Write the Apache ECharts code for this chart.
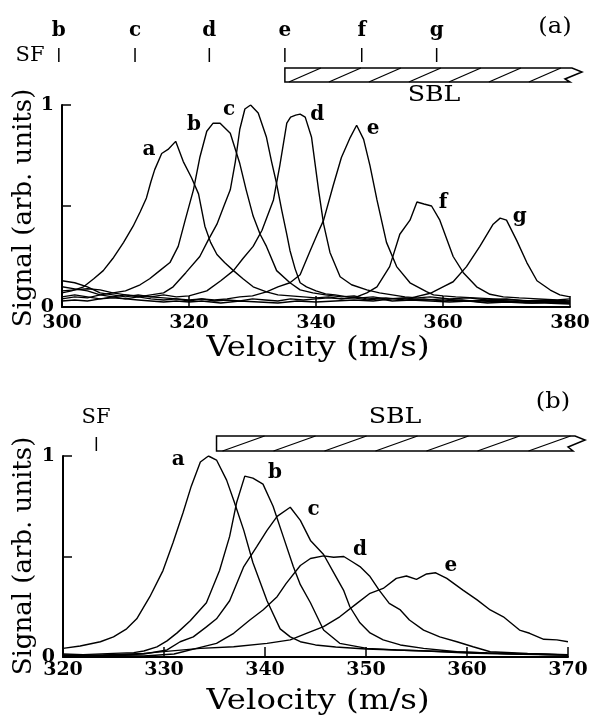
<!DOCTYPE html>
<html>
<head>
<meta charset="utf-8">
<script src="https://cdn.jsdelivr.net/npm/echarts@6/dist/echarts.min.js"></script>
<style>
  html, body { margin: 0; padding: 0; background: #fff; }
  #chart { width: 595px; height: 715px; }
</style>
</head>
<body>
<div id="chart"></div>
<script>
// panel (a): velocity (m/s) / signal pairs
const curveA_a = [[300,0.07],[301.5,0.08],[303.4,0.1],[305,0.14],[306.5,0.18],[308,0.24],[309.7,0.32],[311.2,0.4],[312.3,0.47],[313.3,0.54],[314,0.62],[314.6,0.68],[315.7,0.76],[316.7,0.78],[317.9,0.82],[319.1,0.72],[320.4,0.64],[321.5,0.56],[322.5,0.4],[323.4,0.32],[324.4,0.26],[325.6,0.22],[327,0.18],[328.5,0.14],[330.1,0.1],[332.2,0.075],[334,0.06],[336,0.055],[338,0.05],[340,0.045],[342,0.05],[344,0.04],[346,0.045],[348,0.035],[350,0.04],[352,0.03],[355,0.035],[358,0.03],[361,0.025],[364,0.03],[367,0.02],[370,0.025],[373,0.02],[376,0.02],[380,0.015]]
const curveA_b = [[300,0.04],[302,0.05],[304,0.045],[306,0.06],[308,0.07],[310,0.08],[312.3,0.11],[313.8,0.14],[315.4,0.18],[317,0.22],[318.3,0.3],[319.4,0.43],[320.7,0.58],[321.7,0.74],[322.8,0.87],[323.8,0.91],[324.9,0.91],[326.5,0.86],[328,0.71],[329,0.58],[330.1,0.45],[331.2,0.36],[332.2,0.3],[333.8,0.18],[335.9,0.12],[337.5,0.085],[339.5,0.07],[341.5,0.06],[344,0.05],[346,0.055],[348,0.04],[351,0.045],[354,0.035],[357,0.04],[360,0.03],[363,0.035],[366,0.025],[370,0.03],[374,0.02],[377,0.025],[380,0.02]]
const curveA_c = [[300,0.05],[302,0.06],[304,0.05],[306,0.04],[308,0.05],[310,0.06],[312,0.05],[314,0.06],[316,0.07],[317.5,0.1],[319.5,0.17],[321.7,0.25],[323,0.33],[324.4,0.41],[325.5,0.5],[326.5,0.58],[327.3,0.72],[328,0.88],[328.8,0.98],[329.7,1.0],[330.9,0.96],[332.2,0.84],[333,0.72],[333.8,0.61],[334.6,0.48],[335.4,0.36],[335.9,0.28],[336.7,0.19],[337.5,0.12],[338.5,0.1],[340,0.08],[341.5,0.065],[343,0.06],[345,0.05],[347,0.045],[349,0.05],[351,0.04],[354,0.045],[357,0.035],[360,0.04],[364,0.03],[368,0.035],[372,0.025],[376,0.03],[380,0.02]]
const curveA_d = [[300,0.13],[302,0.12],[304,0.1],[306,0.07],[308,0.06],[310,0.05],[312,0.06],[314,0.05],[316,0.06],[318,0.05],[320,0.055],[322.8,0.08],[325,0.13],[327,0.18],[328.5,0.24],[330.1,0.3],[331.5,0.38],[333.3,0.53],[334.3,0.7],[335.4,0.91],[336,0.94],[336.8,0.95],[337.5,0.955],[338.3,0.94],[339.3,0.84],[340.4,0.58],[341.2,0.41],[342.2,0.27],[343.8,0.15],[345.6,0.11],[348,0.085],[350,0.07],[352,0.06],[354,0.05],[356,0.045],[358,0.05],[361,0.04],[364,0.045],[367,0.035],[370,0.04],[373,0.03],[376,0.035],[380,0.03]]
const curveA_e = [[300,0.1],[302,0.09],[304,0.08],[306,0.06],[308,0.05],[310,0.04],[312,0.05],[314,0.04],[316,0.035],[318,0.04],[320,0.03],[322,0.04],[324,0.035],[326,0.04],[328,0.05],[330,0.055],[332.2,0.075],[334,0.1],[335.9,0.12],[337.5,0.16],[339.1,0.28],[340.2,0.36],[341.2,0.43],[342.7,0.6],[344,0.74],[345.4,0.84],[346.4,0.9],[347.5,0.83],[348.5,0.7],[349.6,0.53],[351.1,0.32],[352.7,0.2],[354.8,0.12],[357.4,0.076],[358.5,0.06],[360,0.055],[362,0.05],[365,0.045],[368,0.04],[371,0.035],[374,0.03],[377,0.025],[380,0.03]]
const curveA_f = [[300,0.08],[302,0.085],[304,0.09],[306,0.085],[308,0.07],[310,0.06],[312,0.055],[314,0.05],[316,0.045],[318,0.04],[320,0.035],[322,0.04],[324,0.03],[326,0.035],[328,0.03],[330,0.04],[332,0.035],[334,0.03],[336,0.04],[338,0.035],[340,0.04],[342,0.045],[344,0.04],[346.4,0.05],[348,0.07],[349.6,0.1],[351.6,0.2],[353.2,0.36],[354.8,0.43],[355.9,0.52],[357,0.51],[358.2,0.5],[359.5,0.43],[361.6,0.25],[363.2,0.17],[365.3,0.1],[367.4,0.063],[369.5,0.05],[372,0.045],[375,0.04],[378,0.035],[380,0.04]]
const curveA_g = [[300,0.03],[302,0.035],[304,0.03],[306,0.04],[308,0.045],[310,0.04],[312,0.035],[314,0.03],[316,0.025],[318,0.03],[320,0.025],[322,0.03],[325,0.02],[328,0.03],[331,0.025],[334,0.02],[337,0.03],[340,0.025],[343,0.03],[346,0.035],[349,0.03],[352,0.04],[355,0.045],[358,0.068],[360,0.1],[361.6,0.125],[363.7,0.2],[365.8,0.3],[367.9,0.41],[369,0.44],[370,0.43],[371.6,0.33],[373.2,0.22],[374.8,0.13],[376.9,0.084],[378.4,0.06],[380,0.05]]

// panel (b)
const curveB_a = [[320,0.043],[321.7,0.055],[323.7,0.076],[325,0.1],[326.3,0.14],[327.3,0.19],[328.6,0.3],[329.9,0.43],[330.9,0.57],[331.9,0.72],[332.7,0.85],[333.6,0.97],[334.4,1.0],[335.2,0.98],[336.2,0.88],[336.9,0.78],[337.9,0.63],[338.8,0.47],[340.2,0.28],[341.5,0.14],[342.5,0.1],[343.5,0.076],[345,0.06],[347,0.05],[350,0.04],[353,0.035],[356,0.03],[359,0.025],[362,0.02],[366,0.015],[370,0.01]]
const curveB_b = [[320,0.015],[322,0.012],[325,0.018],[327,0.022],[328,0.03],[329.3,0.05],[330.3,0.08],[331.3,0.12],[332.6,0.18],[334.2,0.27],[335.5,0.43],[336.5,0.6],[337.2,0.77],[338,0.9],[338.8,0.89],[339.8,0.86],[340.8,0.75],[341.8,0.6],[342.8,0.45],[343.5,0.36],[344.5,0.27],[345.8,0.134],[347.4,0.068],[350.1,0.043],[353,0.035],[356,0.03],[360,0.02],[364,0.015],[370,0.01]]
const curveB_c = [[320,0.01],[322,0.008],[325,0.01],[328,0.015],[330.3,0.035],[331.6,0.076],[332.9,0.1],[334.2,0.15],[335.2,0.19],[336.5,0.28],[337.9,0.45],[339.2,0.55],[340.2,0.63],[341.2,0.7],[342.5,0.745],[343.5,0.68],[344.5,0.58],[345.8,0.51],[346.8,0.42],[347.8,0.33],[348.4,0.25],[349.4,0.17],[350.4,0.12],[351.7,0.085],[353.4,0.06],[355.7,0.043],[359,0.026],[362,0.02],[366,0.015],[370,0.01]]
const curveB_d = [[320,0.005],[324,0.008],[328,0.005],[331,0.015],[333.6,0.048],[335.2,0.068],[336.9,0.118],[338.5,0.184],[339.8,0.234],[341.2,0.3],[342.1,0.366],[343.5,0.455],[344.5,0.49],[345.8,0.503],[346.8,0.496],[347.8,0.5],[348.6,0.475],[349.4,0.45],[350.4,0.4],[351.3,0.333],[352.3,0.267],[353.4,0.234],[354.3,0.184],[355.7,0.134],[357.3,0.1],[359,0.076],[360.6,0.051],[362.3,0.026],[366,0.018],[370,0.012]]
const curveB_e = [[320,0.008],[324,0.01],[328,0.018],[333.6,0.043],[336.9,0.051],[340.2,0.068],[342.5,0.085],[344.1,0.118],[345.8,0.151],[347.4,0.2],[349.1,0.267],[350.4,0.317],[351.7,0.341],[353,0.391],[354,0.403],[355,0.386],[356,0.413],[356.9,0.419],[358,0.391],[359.6,0.333],[361,0.284],[362.3,0.234],[363.6,0.2],[365.2,0.134],[366.2,0.118],[367.6,0.088],[368.9,0.085],[370,0.076]]

// curve letters and where they sit (velocity, signal)
const namesA = ['a', 'b', 'c', 'd', 'e', 'f', 'g']
const labelPosA = [[313.7,0.78],[320.8,0.9],[326.3,0.975],[340.2,0.95],[349,0.88],[360,0.515],[372.1,0.446]]
const namesB = ['a', 'b', 'c', 'd', 'e']
const labelPosB = [[331.4,0.98],[341,0.915],[344.8,0.731],[349.4,0.532],[358.4,0.453]]

// SF markers and SBL bar, velocity
const sfTicksA = [299.5, 311.5, 323.2, 335.1, 347.2, 359]
const sfLettersA = ['b', 'c', 'd', 'e', 'f', 'g']
const sfTickB = 323.3
const sblA = [335.1, 380]
const sblB = [335.2, 370.5]

const xTicksA = [300, 380, 20]
const xTicksB = [320, 370, 10]

const curvesA = [curveA_a, curveA_b, curveA_c, curveA_d, curveA_e, curveA_f, curveA_g]
const curvesB = [curveB_a, curveB_b, curveB_c, curveB_d, curveB_e]

const serif = 'DejaVu Serif'
let chart = echarts.init(document.getElementById('chart'))

function xAxisOf(idx, t, margin, tickLen) {
  return {
    type: 'value', gridIndex: idx, min: t[0], max: t[1], interval: t[2],
    axisLine: { lineStyle: { color: '#000', width: 2 } },
    axisTick: { inside: true, length: tickLen, lineStyle: { color: '#000', width: 1.5 } },
    axisLabel: { color: '#000', fontFamily: serif, fontWeight: 'bold', fontSize: 19, margin: margin },
    splitLine: { show: false }
  }
}
function yAxisOf(idx) {
  return {
    type: 'value', gridIndex: idx, min: 0, max: 1, interval: 0.5,
    axisLine: { show: true, lineStyle: { color: '#000', width: 2 } },
    axisTick: { inside: true, length: 9, lineStyle: { color: '#000', width: 1.5 } },
    axisLabel: {
      color: '#000', fontFamily: serif, fontWeight: 'bold', fontSize: 19, margin: 8,
      formatter: function (v) { return (v === 0 || v === 1) ? String(v) : '' }
    },
    splitLine: { show: false }
  }
}

let series = []
curvesA.forEach(function (d) {
  series.push({ type: 'line', xAxisIndex: 0, yAxisIndex: 0, data: d, showSymbol: false,
    lineStyle: { color: '#000', width: 1.4 }, silent: true })
})
curvesB.forEach(function (d) {
  series.push({ type: 'line', xAxisIndex: 1, yAxisIndex: 1, data: d, showSymbol: false,
    lineStyle: { color: '#000', width: 1.4 }, silent: true })
})
function letterSeries(idx, names, pos) {
  return {
    type: 'scatter', xAxisIndex: idx, yAxisIndex: idx, symbolSize: 1,
    itemStyle: { color: 'rgba(0,0,0,0)' }, silent: true, clip: false,
    data: names.map(function (n, i) { return { name: n, value: pos[i] } }),
    label: { show: true, position: 'inside', formatter: '{b}', color: '#000', opacity: 1,
      textBorderWidth: 0, textShadowBlur: 0,
      fontFamily: serif, fontWeight: 'bold', fontSize: 20 }
  }
}
series.push(letterSeries(0, namesA, labelPosA))
series.push(letterSeries(1, namesB, labelPosB))

let option = {
  animation: false,
  backgroundColor: '#fff',
  grid: [
    { left: 62, top: 105, width: 508, height: 202 },
    { left: 63, top: 456, width: 505, height: 201 }
  ],
  xAxis: [xAxisOf(0, xTicksA, 7, 11), xAxisOf(1, xTicksB, 4, 10)],
  yAxis: [yAxisOf(0), yAxisOf(1)],
  series: series
}
chart.setOption(option)

// header marks, bar and titles
function px(axis, v) { return chart.convertToPixel({ xAxisIndex: axis }, v) }
function txt(s, x, y, size, opts) {
  opts = opts || {}
  return {
    type: 'text', x: x, y: y, rotation: opts.rot || 0, scaleX: opts.sx || 1, silent: true,
    style: { text: s, x: 0, y: 0, align: 'center', verticalAlign: 'middle', fill: '#000',
      font: (opts.bold ? 'bold ' : '') + size + 'px "' + serif + '"' }
  }
}
function seg(x1, y1, x2, y2, w) {
  return { type: 'line', silent: true, shape: { x1: x1, y1: y1, x2: x2, y2: y2 },
    style: { stroke: '#000', lineWidth: w || 1.3 } }
}
function bar(x0, xe, top, bot, off, step, run) {
  let out = []
  out.push({ type: 'polygon', silent: true,
    shape: { points: [[x0, top], [xe + 2, top], [xe + 12, top + 4], [xe - 5, top + 11], [xe, bot], [x0, bot]] },
    style: { fill: '#fff', stroke: '#000', lineWidth: 1.5 } })
  for (let bx = x0 + off; bx + run <= xe; bx += step) {
    out.push(seg(bx, bot, bx + run, top, 1.3))
  }
  return out
}

let g = []
sfTicksA.forEach(function (v, i) {
  let x = px(0, v)
  g.push(seg(x, 48, x, 62, 1.5))
  g.push(txt(sfLettersA[i], x, 31, 20, { bold: true }))
})
g.push(txt('SF', 30, 56, 21))
g = g.concat(bar(px(0, sblA[0]), px(0, sblA[1]), 68, 82, 4, 40, 32))
g.push(txt('SBL', 434, 95, 22, { sx: 1.15 }))
g.push(txt('(a)', 555, 27, 22, { sx: 1.1 }))
g.push(txt('Velocity (m/s)', 318, 349, 27, { sx: 1.2 }))
g.push(txt('Signal (arb. units)', 24, 208, 26, { rot: Math.PI / 2 }))

let xb = px(1, sfTickB)
g.push(seg(xb, 437, xb, 451, 1.5))
g.push(txt('SF', 96, 418, 21))
g = g.concat(bar(px(1, sblB[0]), px(1, sblB[1]), 436, 451, 6, 51, 42))
g.push(txt('SBL', 395, 417, 22, { sx: 1.15 }))
g.push(txt('(b)', 553, 402, 22, { sx: 1.1 }))
g.push(txt('Velocity (m/s)', 318, 702, 27, { sx: 1.2 }))
g.push(txt('Signal (arb. units)', 24, 556, 26, { rot: Math.PI / 2 }))

chart.setOption({ graphic: g })
</script>
</body>
</html>
